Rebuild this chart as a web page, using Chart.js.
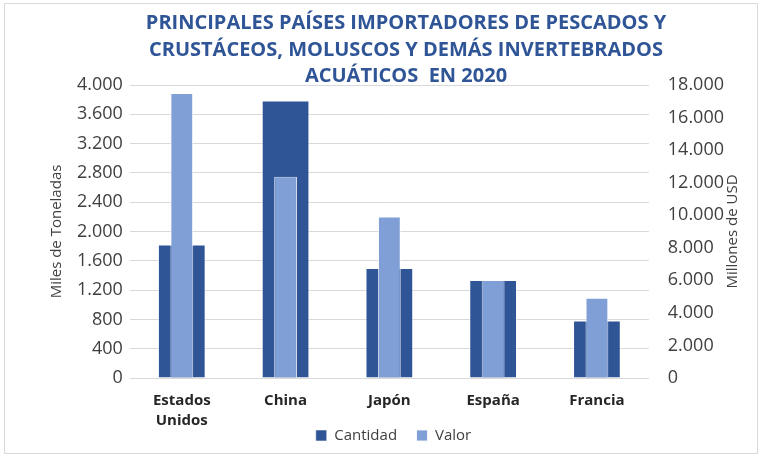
<!DOCTYPE html>
<html>
<head>
<meta charset="utf-8">
<script src="https://cdn.jsdelivr.net/npm/chart.js@4"></script>
<style>
  html, body { margin: 0; padding: 0; background: #fff; }
  #wrap { position: relative; width: 765px; height: 457px; }
</style>
</head>
<body>
<div id="wrap"><canvas id="grafica" width="765" height="457"></canvas></div>
<script>
// Datos
const paises = [['Estados', 'Unidos'], 'China', 'Japón', 'España', 'Francia'];
const cantidad = [1822, 3789, 1501, 1337, 785];      // miles de toneladas (eje izquierdo)
const valor = [17507, 12366, 9925, 6017, 4932];     // millones de USD (eje derecho)
const ticksIzq = ['0', '400', '800', '1.200', '1.600', '2.000', '2.400', '2.800', '3.200', '3.600', '4.000'];
const ticksDer = ['0', '2.000', '4.000', '6.000', '8.000', '10.000', '12.000', '14.000', '16.000', '18.000'];
const titulo = ['PRINCIPALES PAÍSES IMPORTADORES DE PESCADOS Y',
                'CRUSTÁCEOS, MOLUSCOS Y DEMÁS INVERTEBRADOS',
                'ACUÁTICOS  EN 2020'];

const fuente = 'Open Sans';
const gris = '#404040';

// marco, titulo y titulo del eje derecho (girado como en Excel)
const extras = {
  id: 'extras',
  beforeDraw(chart) {
    const ctx = chart.ctx;
    ctx.save();
    ctx.fillStyle = '#fff';
    ctx.fillRect(0, 0, chart.width, chart.height);
    ctx.strokeStyle = '#d9d9d9';
    ctx.lineWidth = 1;
    ctx.strokeRect(4.5, 3.5, 753, 450);
    ctx.restore();
  },
  afterDraw(chart) {
    const ctx = chart.ctx;
    ctx.save();
    ctx.fillStyle = '#2F5597';
    ctx.font = 'bold 20px "' + fuente + '"';
    ctx.textAlign = 'center';
    ctx.textBaseline = 'middle';
    titulo.forEach((t, i) => ctx.fillText(t, 406, 23.5 + i * 26.5));

    const area = chart.chartArea;
    ctx.translate(733, (area.top + area.bottom) / 2);
    ctx.rotate(-Math.PI / 2);
    ctx.fillStyle = gris;
    ctx.font = '15px "' + fuente + '"';
    ctx.fillText('Millones de USD', 0, 0);
    ctx.restore();
  }
};

const Conf = {
  type: 'bar',
  data: {
    labels: paises,
    datasets: [{
      label: 'Cantidad',
      data: cantidad,
      yAxisID: 'y',
      backgroundColor: '#2F5597',
      borderColor: 'rgba(255,255,255,0.55)',
      borderWidth: 1,
      grouped: false,
      categoryPercentage: 1,
      barPercentage: 0.46,
      order: 1
    }, {
      label: 'Valor',
      data: valor,
      yAxisID: 'y1',
      backgroundColor: '#7F9FD6',
      borderColor: 'rgba(255,255,255,0.8)',
      borderWidth: 1,
      grouped: false,
      categoryPercentage: 1,
      barPercentage: 0.22,
      order: 0
    }]
  },
  options: {
    responsive: false,
    animation: false,
    layout: { padding: { left: 44, right: 22, top: 85, bottom: 4 } },
    scales: {
      x: {
        grid: { display: false, drawTicks: false },
        border: { display: false },
        ticks: { color: '#262626', padding: 13, font: { family: fuente, size: 15, weight: 'bold', lineHeight: 1.333 } },
        afterFit: (s) => { s.height = 50; }
      },
      y: {
        position: 'left',
        min: 0, max: 4000,
        ticks: {
          stepSize: 400, padding: 7, color: gris,
          font: { family: fuente, size: 18 },
          callback: (v, i) => ticksIzq[i]
        },
        grid: { color: '#d9d9d9', drawTicks: false },
        border: { display: false },
        title: {
          display: true, text: 'Miles de Toneladas', color: gris,
          font: { family: fuente, size: 15 },
          padding: { top: 4, bottom: 4 }
        }
      },
      y1: {
        position: 'right',
        min: 0, max: 18000,
        ticks: {
          stepSize: 2000, padding: 19, color: gris,
          font: { family: fuente, size: 18 },
          callback: (v, i) => ticksDer[i]
        },
        grid: { drawOnChartArea: false, drawTicks: false },
        border: { display: false }
      }
    },
    plugins: {
      title: { display: false },
      legend: {
        position: 'bottom',
        labels: {
          boxWidth: 11, boxHeight: 11, padding: 0, color: gris,
          font: { family: fuente, size: 15 },
          // hueco entre "Cantidad" y "Valor" como en el original
          generateLabels: (chart) => Chart.defaults.plugins.legend.labels.generateLabels(chart)
            .map(l => l.datasetIndex === 0 ? Object.assign(l, { text: l.text + '     ' }) : l),
          sort: (a, b) => a.datasetIndex - b.datasetIndex
        }
      },
      tooltip: { enabled: false }
    }
  },
  plugins: [extras]
};

window.Graf = new Chart(document.getElementById('grafica'), Conf);
</script>
</body>
</html>
